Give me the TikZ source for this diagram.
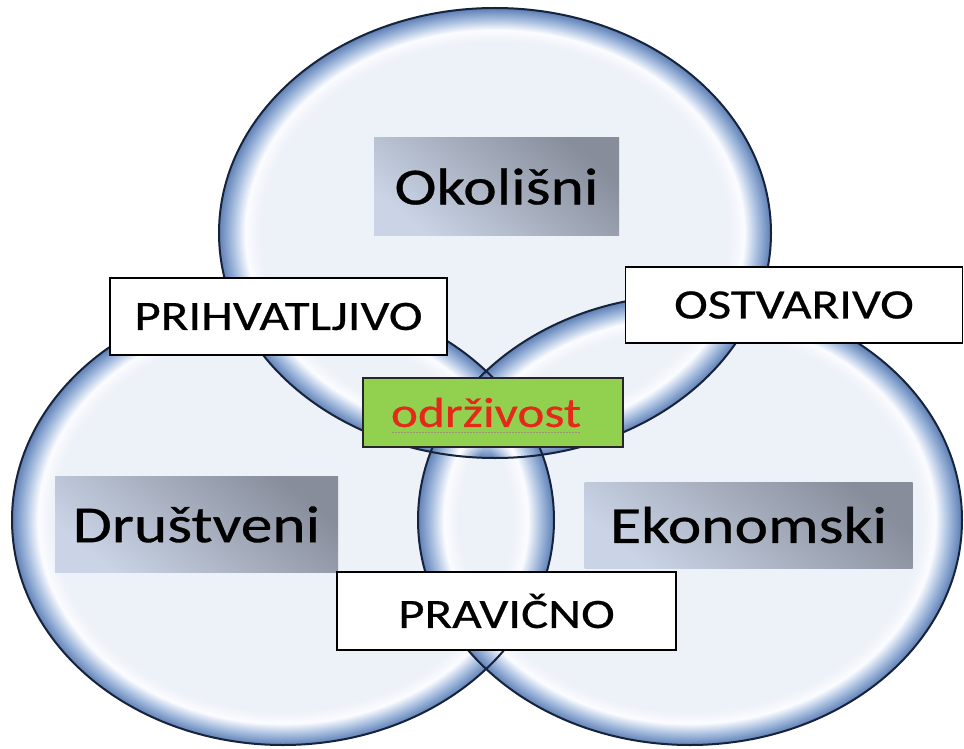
\documentclass[tikz,border=0pt]{standalone}
\usepackage{fontspec}
\setmainfont{Carlito}[FakeStretch=1.22,FakeBold=0.6]
\usetikzlibrary{fadings}
\definecolor{binner}{HTML}{EDF1F8}
\definecolor{bwhite}{HTML}{FBFCFF}
\definecolor{bmid}{HTML}{A7BEDF}
\definecolor{bedge}{HTML}{5F80B6}
\definecolor{bline}{HTML}{16233A}
\definecolor{gdark}{HTML}{878D9B}
\definecolor{glight}{HTML}{CAD4E6}
\definecolor{sgreen}{HTML}{92D050}
\definecolor{sred}{HTML}{E6281A}
\definecolor{sdot}{HTML}{9A9270}
\pgfdeclareradialshading{bubble}{\pgfpointorigin}{%
  color(0bp)=(binner); color(20.5bp)=(binner); color(22.6bp)=(bwhite);
  color(23.8bp)=(bmid); color(25bp)=(bedge); color(50bp)=(bedge)}
\pgfdeclareradialshading{rimfadeshade}{\pgfpointorigin}{%
  color(0bp)=(pgftransparent!100); color(20.5bp)=(pgftransparent!100);
  color(22.3bp)=(pgftransparent!0); color(50bp)=(pgftransparent!0)}
\pgfdeclarefading{rimfade}{\pgfuseshading{rimfadeshade}}
\tikzset{
  bubblebase/.style={fill=binner},
  bubblerim/.style={shading=bubble, path fading=rimfade},
  bubbleline/.style={draw=bline, line width=2pt},
  graybox/.style={rectangle, inner sep=0pt, shading=axis, top color=gdark,
    bottom color=glight, shading angle=-40, text=black,
    font=\fontsize{52}{60}\selectfont},
  whitebox/.style={rectangle, draw=black, line width=1.8pt, fill=white,
    inner sep=0pt, text=black, font=\fontsize{41.7}{50}\selectfont},
  greenbox/.style={rectangle, draw=black!85, line width=1.8pt, fill=sgreen,
    inner sep=0pt, text=sred, font=\fontsize{42}{50}\selectfont},
}
\begin{document}
\begin{tikzpicture}[x=1pt,y=-1pt]
\useasboundingbox[fill=white] (0,0) rectangle (964,749);
% bubbles: base fill
\fill[bubblebase] (495,233) ellipse [x radius=276pt, y radius=225pt];
\fill[bubblebase] (283,520) ellipse [x radius=271pt, y radius=225pt];
\fill[bubblebase] (690,520) ellipse [x radius=272pt, y radius=225pt];
% rims
\shade[bubblerim] (495,233) ellipse [x radius=276pt, y radius=225pt];
\shade[bubblerim] (283,520) ellipse [x radius=271pt, y radius=225pt];
\shade[bubblerim] (690,520) ellipse [x radius=272pt, y radius=225pt];
% outlines
\draw[bubbleline] (495,233) ellipse [x radius=276pt, y radius=225pt];
\draw[bubbleline] (283,520) ellipse [x radius=271pt, y radius=225pt];
\draw[bubbleline] (690,520) ellipse [x radius=272pt, y radius=225pt];
% labels
\node[graybox, minimum width=245pt, minimum height=97pt] (okol) at (496.5,186.5) {Okolišni};
\node[graybox, minimum width=283pt, minimum height=96pt] (drus) at (196.5,524.5) {Društveni};
\node[graybox, minimum width=328pt, minimum height=86pt] (ekon) at (748.5,525) {Ekonomski};
\node[whitebox, minimum width=337pt, minimum height=77pt] (prih) at (278.5,316.5) {PRIHVATLJIVO};
\node[whitebox, minimum width=337pt, minimum height=76pt] (ostv) at (794,305) {OSTVARIVO};
\node[whitebox, minimum width=339pt, minimum height=78pt] (prav) at (506.5,611) {PRAVIČNO};
\node[greenbox, minimum width=260pt, minimum height=69pt] (odr) at (493,412.5) {\hspace*{-14pt}održivost};
\coordinate (ul1) at (392,432);
\coordinate (ul2) at (580,432);
\draw[sdot, line width=1pt, dash pattern=on 1.5pt off 1.5pt] (ul1) -- (ul2);
\end{tikzpicture}
\end{document}
